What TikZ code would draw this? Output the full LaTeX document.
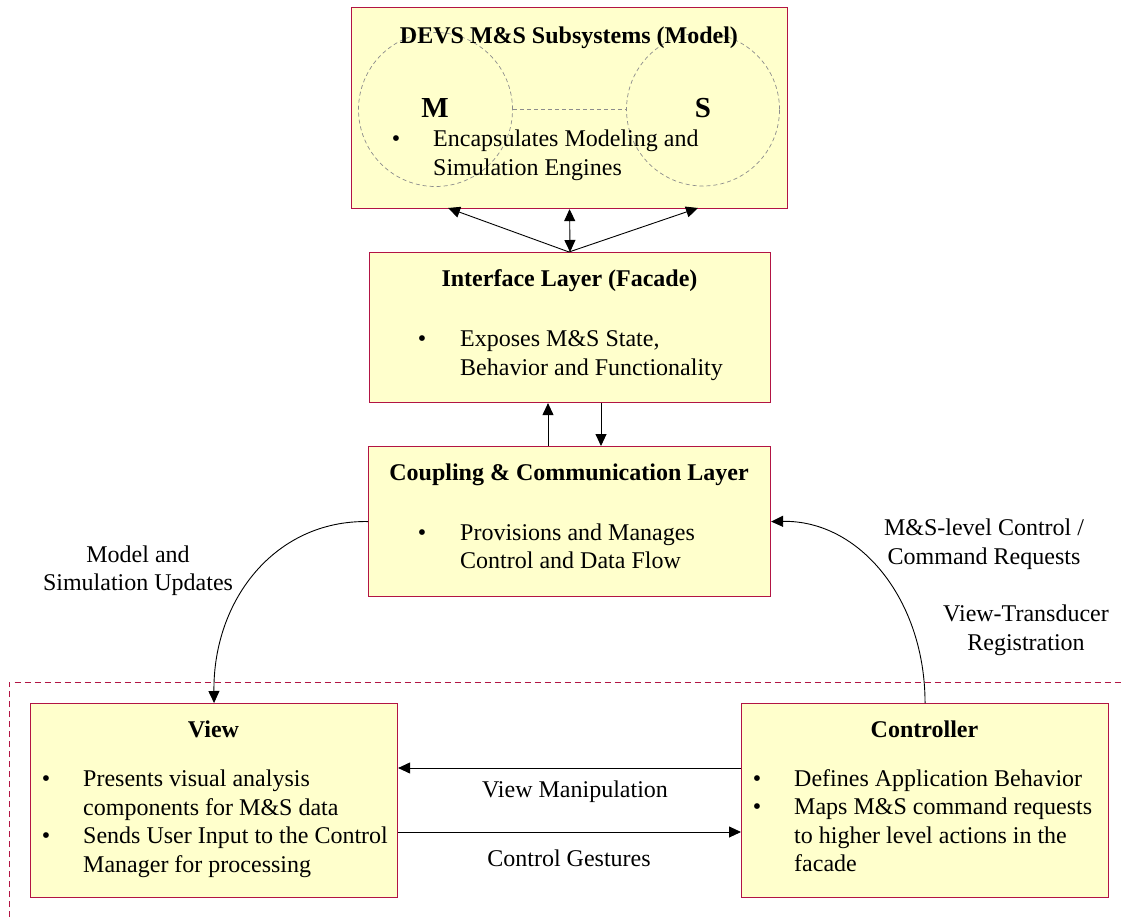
\documentclass[tikz,border=0pt]{standalone}
\usepackage{fontspec}
\setmainfont{Liberation Serif}
\usetikzlibrary{arrows.meta}
\definecolor{boxfill}{RGB}{255,255,204}
\definecolor{boxline}{RGB}{178,20,68}
\definecolor{ringgray}{RGB}{140,140,140}
\begin{document}
\begin{tikzpicture}[x=1pt,y=-1pt,
  box/.style={draw=boxline, fill=boxfill, line width=1.1pt, inner sep=0pt, anchor=north west},
  heading/.style={font=\fontsize{24}{28}\selectfont\bfseries, anchor=base, inner sep=0pt},
  body/.style={font=\fontsize{24}{28}\selectfont, anchor=base west, inner sep=0pt},
  lbl/.style={font=\fontsize{24}{28}\selectfont, anchor=base, inner sep=0pt},
  dot/.style={font=\fontsize{24}{28}\selectfont, anchor=base, inner sep=0pt},
  ring/.style={draw=ringgray, dash pattern=on 4pt off 3pt, line width=0.7pt},
  link/.style={line width=0.9pt, -{Triangle[length=12pt,width=11pt]}},
  region/.style={draw=boxline, dash pattern=on 6pt off 4pt, line width=0.9pt}
]
\useasboundingbox (0,0) rectangle (1123,917);

% ---- Model subsystems ----
\node[box, minimum width=436pt, minimum height=201pt] (model) at (351,7) {};
\node[ring, circle, minimum size=154pt, inner sep=0pt] (mring) at (435.5,109.5) {};
\node[ring, circle, minimum size=153pt, inner sep=0pt] (sring) at (703,109.5) {};
\draw[ring] (mring.east) -- (sring.west);
\node[heading] (modelt) at (569,44) {DEVS M\&S Subsystems (Model)};
\node[font=\fontsize{29}{30}\selectfont\bfseries, anchor=base, inner sep=0pt] (mlab) at (435,118) {M};
\node[font=\fontsize{29}{30}\selectfont\bfseries, anchor=base, inner sep=0pt] (slab) at (703,118) {S};
\node[dot] (mb1) at (396,147) {•};
\node[body] (m1) at (433,147) {Encapsulates Modeling and};
\node[body] (m2) at (433,176) {Simulation Engines};

% ---- Interface layer ----
\node[box, minimum width=401pt, minimum height=150pt] (face) at (369,252) {};
\node[heading] (facet) at (569.5,286) {Interface Layer (Facade)};
\node[dot] (fb1) at (422,346.7) {•};
\node[body] (f1) at (460,346.7) {Exposes M\&S State,};
\node[body] (f2) at (460,375) {Behavior and Functionality};

% ---- Coupling layer ----
\node[box, minimum width=402pt, minimum height=150pt] (coup) at (368,446) {};
\node[heading] (coupt) at (569,480) {Coupling \& Communication Layer};
\node[dot] (cb1) at (422,540) {•};
\node[body] (c1) at (460,540) {Provisions and Manages};
\node[body] (c2) at (460,568.5) {Control and Data Flow};

% ---- Client region ----
\coordinate (regtop) at (9,682.5);
\coordinate (regright) at (1123,682.5);
\coordinate (regbottom) at (9,917);
\draw[region] (regbottom) -- (regtop) -- (regright);

% ---- View ----
\node[box, minimum width=367pt, minimum height=194pt] (view) at (30,703) {};
\node[heading] (viewt) at (213.5,737) {View};
\node[dot] (vb1) at (46,786) {•};
\node[body] (v1) at (83,786) {Presents visual analysis};
\node[body] (v2) at (83,815) {components for M\&S data};
\node[dot] (vb2) at (46,843.5) {•};
\node[body] (v3) at (83,843.5) {Sends User Input to the Control};
\node[body] (v4) at (83,872) {Manager for processing};

% ---- Controller ----
\node[box, minimum width=367pt, minimum height=194pt] (ctrl) at (741,703) {};
\node[heading] (ctrlt) at (924.5,737) {Controller};
\node[dot] (kb1) at (757,786) {•};
\node[body] (k1) at (794,786) {Defines Application Behavior};
\node[dot] (kb2) at (757,814.5) {•};
\node[body] (k2) at (794,814.5) {Maps M\&S command requests};
\node[body] (k3) at (794,843) {to higher level actions in the};
\node[body] (k4) at (794,871.5) {facade};

% ---- Connectors: facade <-> model ----
\coordinate (fanin) at (569,252);
\coordinate (mleft) at (448,208);
\coordinate (mright) at (698,208);
\draw[link] (fanin) -- (mleft);
\draw[link] (fanin) -- (mright);
\draw[link, {Triangle[length=12pt,width=11pt]}-{Triangle[length=12pt,width=11pt]}] (face.north) -- (model.south);

% ---- Connectors: coupling <-> facade ----
\draw[link] (coup.north -| 548,0) -- (face.south -| 548,0);
\draw[link] (face.south -| 601,0) -- (coup.north -| 601,0);

% ---- Updates to the view ----
\draw[link] (coup.west) .. controls (275,520) and (213,600) .. (view.north);
\node[lbl] (upd1) at (138,562.7) {Model and};
\node[lbl] (upd2) at (138,590.7) {Simulation Updates};

% ---- Requests from the controller ----
\draw[link] (ctrl.north) .. controls (925,600) and (860,520) .. (coup.east);
\node[lbl] (req1) at (984,535) {M\&S-level Control /};
\node[lbl] (req2) at (984,564) {Command Requests};
\node[lbl] (reg1) at (1026,621.7) {View-Transducer};
\node[lbl] (reg2) at (1026,650.7) {Registration};

% ---- View <-> controller ----
\draw[link] (ctrl.west |- 0,768) -- (view.east |- 0,768);
\node[lbl] (vman) at (575,797.7) {View Manipulation};
\draw[link] (view.east |- 0,832) -- (ctrl.west |- 0,832);
\node[lbl] (cges) at (569,866) {Control Gestures};
\end{tikzpicture}
\end{document}
